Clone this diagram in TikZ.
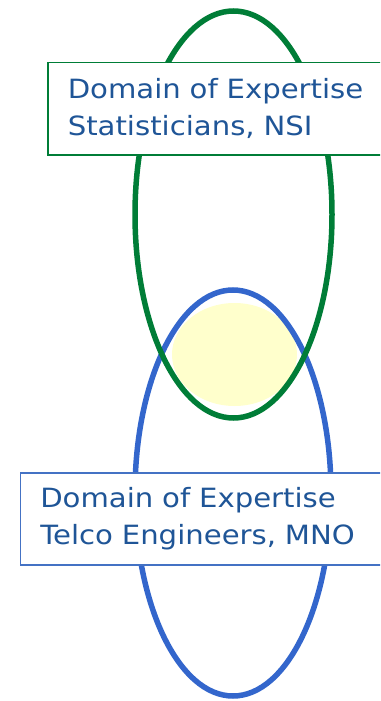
\documentclass[tikz,border=0pt]{standalone}
\usepackage{fontspec}
\setmainfont[FakeStretch=1.1]{DejaVu Sans}
\definecolor{vert}{RGB}{0,125,55}
\definecolor{bleu}{RGB}{51,102,204}
\definecolor{bleuclair}{RGB}{68,114,196}
\definecolor{jaune}{RGB}{255,255,204}
\definecolor{texte}{RGB}{31,85,151}
\tikzset{
  boite/.style={fill=white, line width=1.5pt, anchor=north west, align=left,
    text width=350pt, inner xsep=20pt, minimum height=92pt, text=texte,
    font=\fontsize{26.5}{37}\selectfont}
}
\begin{document}
\begin{tikzpicture}[x=1pt,y=-1pt]
        \useasboundingbox (0,0) rectangle (380,701);
        \clip (0,0) rectangle (380,701); % Les boites depassent a droite

        % Zone commune en jaune
        \fill[jaune] (234.5,354.5) ellipse [x radius=62.5pt, y radius=51.5pt];

        % Dessiner les deux ellipses
        \draw[bleu, line width=5.5pt] (233,493) ellipse [x radius=98pt, y radius=203pt];
        \draw[vert, line width=5.5pt] (233.5,214.5) ellipse [x radius=98.5pt, y radius=203.5pt];

        % Les deux domaines
        \node[boite, draw=vert] (nsi) at (47,62) {Domain of Expertise\\Statisticians, NSI};
        \node[boite, draw=bleuclair] (mno) at (19.5,472) {Domain of Expertise\\Telco Engineers, MNO};
    \end{tikzpicture}
\end{document}
